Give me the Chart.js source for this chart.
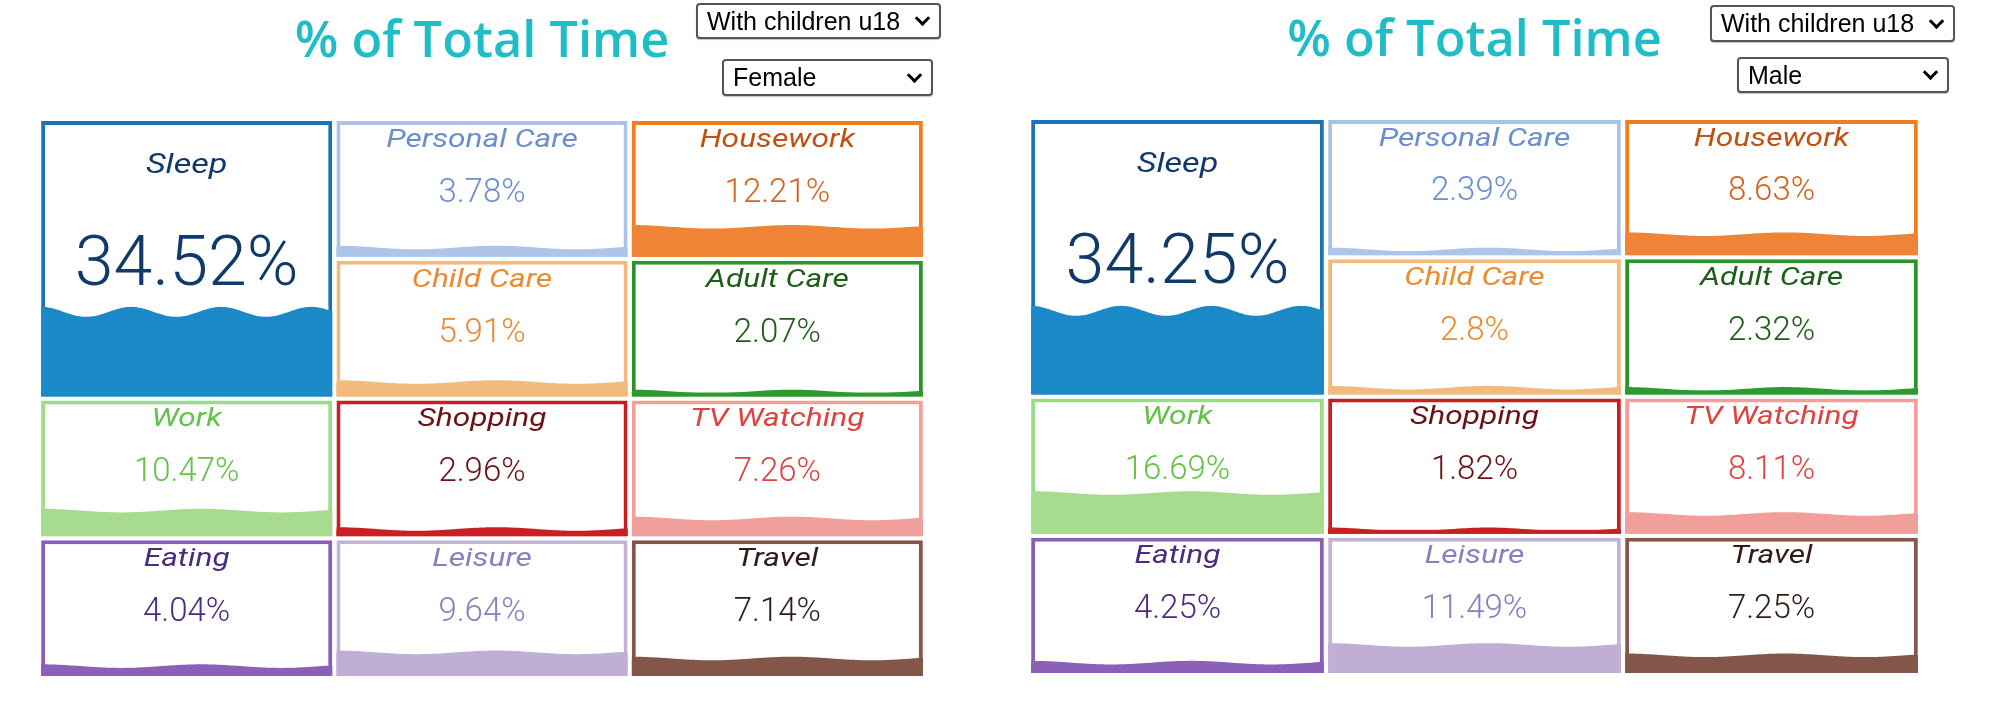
<!DOCTYPE html>
<html>
<head>
<meta charset="utf-8">
<script src="https://cdn.jsdelivr.net/npm/chart.js@4.4.1/dist/chart.umd.min.js"></script>
<style>
  html, body { margin: 0; padding: 0; background: #ffffff; }
  body { width: 2000px; height: 706px; position: relative; overflow: hidden; }
  .panel { position: absolute; top: 0; width: 1000px; height: 706px; }
  .panel canvas { position: absolute; left: 0; top: 0; }
  .sel {
    position: absolute; box-sizing: border-box; background: #fff;
    border: 2px solid #555; border-radius: 4px;
    box-shadow: 0 1px 1px rgba(0,0,0,0.25);
    font: 25px "Liberation Sans", Arial, sans-serif; color: #000;
    padding-left: 9px; display: flex; align-items: center; white-space: nowrap;
  }
  .sel .chev {
    position: absolute; right: 11px; top: 50%; width: 8px; height: 8px;
    border-right: 3px solid #000; border-bottom: 3px solid #000;
    transform: translateY(-75%) rotate(45deg);
  }
</style>
</head>
<body>
<div class="panel" style="left:0px"><canvas id="c0" width="1000" height="706"></canvas></div>
<div class="panel" style="left:1000px"><canvas id="c1" width="1000" height="706"></canvas></div>
<div id="selects"></div>
<script>
// ---------- data ----------
const categories = ['Sleep', 'Personal Care', 'Housework', 'Child Care', 'Adult Care', 'Work',
                    'Shopping', 'TV Watching', 'Eating', 'Leisure', 'Travel'];
const femaleValues = [34.52, 3.78, 12.21, 5.91, 2.07, 10.47, 2.96, 7.26, 4.04, 9.64, 7.14];
const maleValues   = [34.25, 2.39, 8.63, 2.8, 2.32, 16.69, 1.82, 8.11, 4.25, 11.49, 7.25];
const panelTitle = '% of Total Time';
const householdChoice = 'With children u18';
const sexChoices = ['Female', 'Male'];

// ---------- grid structure (which cell each category sits in) ----------
const gridColumns = ['c1', 'c2', 'c3'];
const tileColumn = ['c1', 'c2', 'c3', 'c2', 'c3', 'c1', 'c2', 'c3', 'c1', 'c2', 'c3'];
const tileRow    = [0, 0, 0, 1, 1, 2, 2, 2, 3, 3, 3];
const tileSpan   = [2, 1, 1, 1, 1, 1, 1, 1, 1, 1, 1];

// ---------- styles ----------
const borderColors = ['#1c73b7', '#a9c2e7', '#f47c1a', '#f4b87a', '#2a962a', '#9edb88',
                      '#c81e22', '#f59d99', '#8a5db8', '#c4b2d6', '#86564a'];
const fillColors   = ['#1b89c8', '#adc5e8', '#ef8436', '#f3ba7e', '#2c9a2c', '#a7dc90',
                      '#c92024', '#f09f9b', '#8c5fb9', '#c0aed4', '#84564a'];
const labelColors  = ['#0f3a6a', '#6c8ecf', '#c0510f', '#ec8a2f', '#1e5d17', '#64c24b',
                      '#6b1216', '#e0433f', '#4a2b7d', '#8d7cc0', '#2f1c16'];
const valueColors  = ['#0f3a6a', '#6c8ecf', '#d0651f', '#ec8a2f', '#1e5d17', '#64c24b',
                      '#6b1216', '#e0433f', '#4a2b7d', '#8d7cc0', '#2f1c16'];
const GAP = 0.0143;          // half gap between cells, in row units
const FILL_PER_PCT = 1 / 57; // liquid level in row units per percent

const liquidPlugin = {
  id: 'liquid',
  afterDatasetsDraw(chart) {
    const ctx = chart.ctx;
    const tiles = chart.getDatasetMeta(0).data;
    const fills = chart.getDatasetMeta(1).data;
    const vals = chart.data.datasets[0].values;
    tiles.forEach((t, i) => {
      const f = fills[i];
      const tl = t.x - t.width / 2, tr = t.x + t.width / 2;
      const ttop = Math.min(t.y, t.base), tbot = Math.max(t.y, t.base);
      const h = tbot - ttop;
      const level = Math.min(f.y, f.base);
      const big = h > 200;
      const amp = big ? 5 : 1.8;
      const period = big ? 90 : 160;
      const bw = 4;
      // wave edge
      ctx.save();
      ctx.beginPath();
      ctx.rect(tl + bw, ttop + bw, tr - tl - 2 * bw, h - 2 * bw);
      ctx.clip();
      ctx.fillStyle = '#ffffff';
      ctx.fillRect(tl, level - amp - 1, tr - tl, 2 * amp + 2);
      ctx.restore();
      ctx.save();
      ctx.beginPath();
      ctx.rect(tl, ttop, tr - tl, h);
      ctx.clip();
      ctx.beginPath();
      ctx.moveTo(tl, tbot);
      for (let x = tl; x <= tr + 1; x += 2) {
        ctx.lineTo(x, level - amp * Math.cos(2 * Math.PI * (x - tl) / period));
      }
      ctx.lineTo(tr + 1, tbot);
      ctx.closePath();
      ctx.fillStyle = fillColors[i];
      ctx.fill();
      ctx.restore();
      // label (wide italic face)
      ctx.save();
      ctx.textAlign = 'center';
      ctx.textBaseline = 'alphabetic';
      ctx.fillStyle = labelColors[i];
      ctx.font = 'italic 400 ' + (big ? 28 : 26) + 'px Roboto, sans-serif';
      ctx.translate(t.x, ttop + 0.19 * h);
      ctx.scale(1.22, 1);
      ctx.fillText(categories[i], 0, 0);
      ctx.restore();
      // value
      ctx.save();
      ctx.textAlign = 'center';
      ctx.textBaseline = 'alphabetic';
      ctx.fillStyle = valueColors[i];
      ctx.font = '300 ' + (big ? 70 : 33) + 'px Roboto, sans-serif';
      ctx.fillText(vals[i] + '%', t.x, ttop + 0.595 * h);
      ctx.restore();
    });
  }
};

function makePanel(canvasId, values, pad, titlePad) {
  const tileData = categories.map((c, i) => ({
    x: tileColumn[i], y: [tileRow[i] + GAP, tileRow[i] + tileSpan[i] - GAP]
  }));
  const fillData = categories.map((c, i) => ({
    x: tileColumn[i],
    y: [tileRow[i] + tileSpan[i] - GAP - values[i] * FILL_PER_PCT, tileRow[i] + tileSpan[i] - GAP]
  }));
  return new Chart(document.getElementById(canvasId), {
    type: 'bar',
    data: {
      labels: gridColumns,
      datasets: [
        { label: 'cells', data: tileData, values: values, order: 2,
          backgroundColor: '#ffffff', borderColor: borderColors, borderWidth: 4,
          borderSkipped: false, inflateAmount: 0, grouped: false,
          categoryPercentage: 1, barPercentage: 0.9855 },
        { label: 'level', data: fillData, order: 1,
          backgroundColor: fillColors, borderWidth: 0, inflateAmount: 0, grouped: false,
          categoryPercentage: 1, barPercentage: 0.9855 }
      ]
    },
    options: {
      responsive: false, animation: false, events: [],
      layout: { padding: pad },
      scales: {
        x: { type: 'category', display: false, offset: true },
        y: { type: 'linear', display: false, min: 0, max: 4, reverse: true }
      },
      plugins: {
        legend: { display: false },
        tooltip: { enabled: false },
        title: { display: true, text: panelTitle, color: '#1fbec6',
                 font: { family: "'Open Sans', sans-serif", size: 50.5, weight: '600', lineHeight: 1.2 },
                 padding: titlePad }
      }
    },
    plugins: [liquidPlugin]
  });
}

makePanel('c0', femaleValues, { left: 39, right: 75, top: 0, bottom: 28 }, { top: 12, bottom: 46.4 });
makePanel('c1', maleValues,   { left: 29, right: 80, top: 0, bottom: 31 }, { top: 11, bottom: 46.4 });

// dropdown controls
const selBoxes = [
  { text: householdChoice, l: 696,  t: 3,  w: 245, h: 36 },
  { text: sexChoices[0],   l: 722,  t: 59, w: 211, h: 37 },
  { text: householdChoice, l: 1710, t: 5,  w: 245, h: 37 },
  { text: sexChoices[1],   l: 1737, t: 57, w: 212, h: 36 }
];
const host = document.getElementById('selects');
selBoxes.forEach(s => {
  const d = document.createElement('div');
  d.className = 'sel';
  d.style.left = s.l + 'px'; d.style.top = s.t + 'px';
  d.style.width = s.w + 'px'; d.style.height = s.h + 'px';
  d.textContent = s.text;
  const c = document.createElement('span');
  c.className = 'chev';
  d.appendChild(c);
  host.appendChild(d);
});
</script>
</body>
</html>
